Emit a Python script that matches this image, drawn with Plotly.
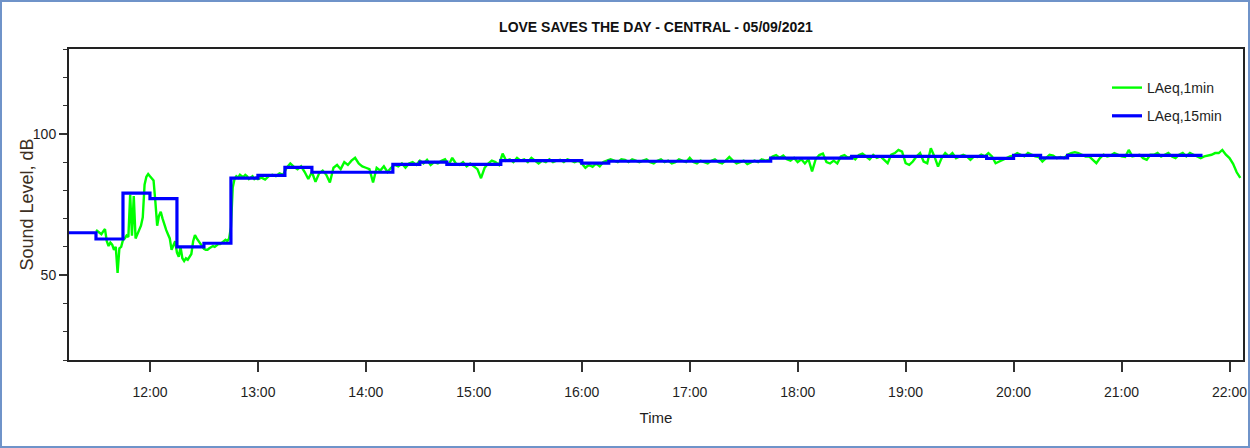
import pandas as pd
import plotly.graph_objects as go

# ---- data ----
title_text = "LOVE SAVES THE DAY - CENTRAL - 05/09/2021"
series_names = ["LAeq,1min", "LAeq,15min"]
hour_labels = ["12:00", "13:00", "14:00", "15:00", "16:00", "17:00",
               "18:00", "19:00", "20:00", "21:00", "22:00"]

# LAeq,1min : 1-minute values 11:30 - 12:59
green_early = [66.0, 65.5, 65.0, 64.5, 65.5, 66.3, 62.0, 60.3, 61.5, 60.8,
               59.0, 60.0, 50.8, 59.5, 60.0, 62.5, 63.0, 64.0, 63.5, 78.5,
               64.0, 78.0, 63.0, 64.5, 66.0, 67.5, 70.5, 82.0, 84.8, 85.8,
               85.0, 84.3, 83.5, 76.0, 67.5, 71.0, 72.4, 70.0, 67.5, 66.0,
               64.5, 63.0, 59.0, 60.5, 62.0, 58.0, 56.5, 60.0, 56.0, 55.0,
               56.0, 55.5, 56.5, 57.5, 62.0, 64.2, 63.0, 62.0, 61.0, 60.0,
               59.3, 59.0, 59.0, 59.5, 60.0, 60.3, 60.0, 60.5, 61.0, 61.0,
               61.5, 62.0, 62.5, 62.0, 63.0, 67.0, 81.0, 84.0, 85.0, 84.5,
               85.5, 85.0, 84.8, 85.5, 85.0, 84.0, 84.5, 85.0, 84.0, 84.5]

# LAeq,1min : values every 2 minutes, one list per hour
green_h13 = [84.0, 84.5, 83.8, 85.0, 85.5, 85.0, 86.0, 85.5, 88.0, 89.5,
             88.3, 87.5, 88.5, 86.5, 84.0, 86.5, 83.0, 86.0, 87.0, 85.5,
             82.8, 88.0, 89.0, 87.5, 90.0, 89.0, 90.5, 91.5, 89.5, 88.5]
green_h14 = [88.0, 87.5, 82.8, 88.0, 87.0, 88.5, 86.5, 88.0, 89.0, 88.5,
             89.5, 88.0, 89.5, 90.0, 89.0, 90.5, 89.5, 90.8, 89.0, 90.0,
             89.5, 90.5, 91.0, 89.0, 91.5, 89.5, 89.0, 90.0, 88.5, 89.5]
green_h15 = [88.5, 87.5, 84.3, 88.0, 89.5, 90.5, 90.0, 89.0, 93.0, 90.5,
             91.0, 90.0, 91.5, 90.5, 91.0, 90.0, 91.5, 90.5, 89.5, 90.5,
             90.0, 91.0, 90.0, 90.5, 90.8, 90.0, 91.0, 90.5, 90.0, 90.5]
green_h16 = [89.5, 88.0, 89.0, 88.3, 89.5, 88.5, 90.0, 90.5, 91.0, 90.5,
             90.0, 91.0, 90.8, 90.0, 91.0, 90.5, 90.0, 90.5, 91.0, 90.0,
             89.5, 90.5, 91.0, 90.0, 90.5, 89.5, 90.0, 91.0, 90.5, 90.0]
green_h17 = [91.5, 90.0, 89.5, 90.5, 90.0, 89.5, 90.5, 91.0, 90.0, 89.5,
             90.5, 91.8, 90.5, 89.5, 90.0, 90.5, 89.3, 90.0, 90.5, 90.0,
             91.0, 90.5, 90.8, 92.0, 92.5, 91.5, 92.3, 91.0, 90.5, 91.5]
green_h18 = [90.0, 91.0, 89.5, 91.0, 86.7, 91.0, 92.5, 93.0, 90.0, 89.5,
             90.5, 89.5, 92.0, 92.5, 91.5, 92.0, 91.0, 92.5, 93.0, 92.0,
             91.0, 92.5, 91.5, 92.0, 90.8, 89.6, 92.6, 93.2, 94.3, 93.7]
green_h19 = [89.6, 89.0, 90.2, 92.0, 93.2, 90.2, 89.6, 94.9, 92.0, 88.4,
             91.4, 93.2, 92.0, 93.2, 91.4, 92.0, 92.6, 92.0, 90.8, 92.0,
             91.8, 92.6, 92.0, 93.2, 92.0, 89.6, 90.2, 90.8, 91.4, 92.0]
green_h20 = [92.3, 93.2, 92.6, 92.0, 93.2, 92.6, 92.0, 91.8, 90.2, 91.4,
             92.6, 92.3, 91.4, 91.8, 91.4, 92.6, 93.2, 93.5, 93.2, 92.6,
             92.0, 92.0, 90.8, 89.6, 91.4, 92.6, 92.0, 92.3, 93.2, 92.6]
green_h21 = [92.0, 91.8, 94.3, 92.0, 92.3, 92.6, 91.4, 90.8, 92.6, 92.6,
             93.2, 92.0, 92.6, 93.2, 92.0, 91.4, 92.6, 93.2, 92.0, 93.2,
             92.6, 92.0, 91.4, 92.0, 92.3, 92.6, 93.2, 93.2, 94.3, 92.6]
green_h22 = [91.4, 89.4, 86.4, 84.4]

# LAeq,15min : one value per 15-minute interval starting 11:15
blue_vals = [65.0, 62.8, 79.0, 77.1, 60.0, 61.3, 84.3, 85.3, 88.1, 86.4,
             86.4, 86.4, 89.2, 90.0, 89.2, 89.2, 90.5, 90.5, 90.5, 89.6,
             90.3, 90.3, 90.3, 90.3, 90.3, 90.3, 91.4, 91.4, 91.4, 92.0,
             92.0, 92.0, 92.0, 92.0, 91.3, 92.4, 91.5, 92.4, 92.4, 92.4,
             92.4, 92.4]

# ---- build series ----
day = "2021-09-05 "
early_t = pd.date_range(day + "11:30", periods=len(green_early), freq="1min")
green_late = (green_h13 + green_h14 + green_h15 + green_h16 + green_h17 +
              green_h18 + green_h19 + green_h20 + green_h21 + green_h22)
late_t = pd.date_range(day + "13:00", periods=len(green_late), freq="2min")
green_t = list(early_t) + list(late_t)
green_y = green_early + green_late

blue_t = pd.date_range(day + "11:15", periods=len(blue_vals) + 1, freq="15min")
blue_y = blue_vals + [blue_vals[-1]]

tick_t = [pd.Timestamp(day + h) for h in hour_labels]

FONT = "Liberation Sans, Arial, sans-serif"
TXT = "#1e1e1e"

fig = go.Figure()
fig.add_trace(go.Scatter(x=green_t, y=green_y, mode="lines", name=series_names[0],
                         line=dict(color="#00ff00", width=2.4), legendgroup="a",
                         cliponaxis=True))
fig.add_trace(go.Scatter(x=blue_t, y=blue_y, mode="lines", name=series_names[1],
                         line=dict(color="#0000ff", width=3.2, shape="hv"), legendgroup="b"))

# outer frame of the picture (paper coords relative to plot area)
L, R, T, B = 69, 7, 49, 88
W, H = 1250, 448
pw, ph = W - L - R, H - T - B
fig.add_shape(type="rect", xref="paper", yref="paper", layer="above",
              x0=(-L + 1) / pw, x1=(W - L - 1) / pw,
              y0=(-B + 1) / ph, y1=(H - B - 1) / ph,
              line=dict(color="#6f93c9", width=2))

# y-axis title placed as text at the reference position
fig.add_annotation(text="Sound Level, dB", textangle=-90, showarrow=False,
                   xref="paper", yref="paper", x=(26 - L) / pw, y=0.5,
                   xanchor="center", yanchor="middle",
                   font=dict(family=FONT, size=18, color="#3d2f22"))

fig.update_layout(
    width=W, height=H,
    margin=dict(l=L, r=R, t=T, b=B, autoexpand=False),
    paper_bgcolor="white", plot_bgcolor="white",
    title=dict(text="<b>" + title_text + "</b>", x=0.5, xref="paper",
               y=1 - 27 / H, yref="container", yanchor="middle", xanchor="center",
               font=dict(family=FONT, size=14, color="#111111")),
    showlegend=True,
    legend=dict(x=(1107 - L) / pw, y=(H - B - 72) / ph, xanchor="left", yanchor="top",
                bgcolor="rgba(0,0,0,0)", font=dict(family=FONT, size=14, color=TXT),
                tracegroupgap=7, traceorder="grouped"),
    xaxis=dict(range=[pd.Timestamp(day + "11:15"), pd.Timestamp(day + "22:07:30")],
               automargin=False, ticklabeloverflow="allow",
               tickmode="array", tickvals=tick_t, ticktext=hour_labels,
               ticks="outside", ticklen=10, tickwidth=1.5, tickcolor="#333333",
               showline=True, linecolor="#222222", linewidth=2, mirror=True,
               showgrid=False, zeroline=False,
               tickfont=dict(family=FONT, size=14, color=TXT),
               ticklabelstandoff=8,
               title=dict(text="Time", font=dict(family=FONT, size=15, color=TXT), standoff=14)),
    yaxis=dict(range=[20, 130], tick0=0, dtick=50, automargin=False,
               ticks="outside", ticklen=8, tickwidth=1.5, tickcolor="#333333",
               minor=dict(dtick=10, tick0=0, ticks="outside", ticklen=4,
                          tickwidth=1.2, tickcolor="#333333", showgrid=False),
               showline=True, linecolor="#222222", linewidth=2, mirror=True,
               showgrid=False, zeroline=False,
               tickfont=dict(family=FONT, size=14, color=TXT)),
)

fig.write_html("out.html", config={"displayModeBar": False},
               post_script="document.body.style.margin='0';")
